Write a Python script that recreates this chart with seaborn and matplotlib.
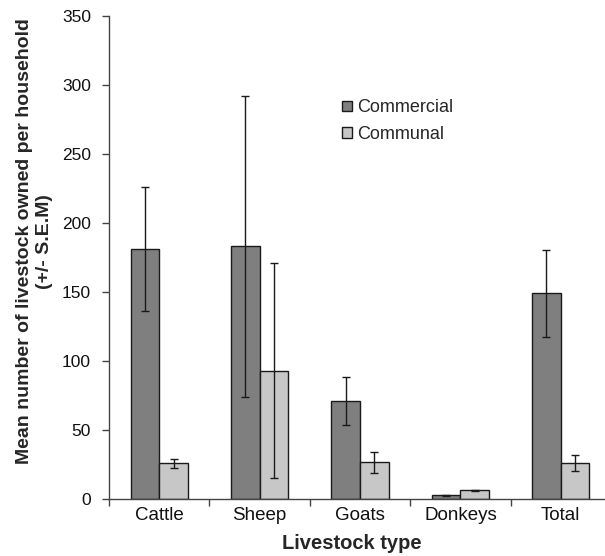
import matplotlib
matplotlib.use("Agg")
import matplotlib.pyplot as plt
import seaborn as sns
import pandas as pd
import numpy as np

# Mean livestock holdings per household with standard errors
categories = ["Cattle", "Sheep", "Goats", "Donkeys", "Total"]
commercial_mean = [181, 183, 71, 2.7, 149]
commercial_sem = [45, 109, 17.5, 0.3, 31.7]
communal_mean = [26, 93, 26.5, 6.3, 26]
communal_sem = [3.3, 78, 7.6, 0.5, 5.6]
groups = ["Commercial", "Communal"]

df = pd.DataFrame({
    "type": categories * 2,
    "group": [groups[0]] * len(categories) + [groups[1]] * len(categories),
    "mean": commercial_mean + communal_mean,
})
sems = {groups[0]: commercial_sem, groups[1]: communal_sem}

sns.set_theme(style="white")
plt.rcParams["font.family"] = ["Liberation Sans", "DejaVu Sans"]

fig = plt.figure(figsize=(6.05, 5.56), dpi=100)
ax = fig.add_axes([109 / 605, 1 - 499 / 556, 502 / 605, 483 / 556])

palette = {groups[0]: "#7f7f7f", groups[1]: "#c6c7c6"}
sns.barplot(data=df, x="type", y="mean", hue="group", order=categories,
            hue_order=groups, palette=palette, width=0.57, errorbar=None,
            edgecolor="#1a1a1a", linewidth=1.0, saturation=1, ax=ax)

# Standard-error bars at each bar centre
for cont, g in zip(ax.containers, groups):
    xs = [b.get_x() + b.get_width() / 2 for b in cont]
    hs = [b.get_height() for b in cont]
    ax.errorbar(xs, hs, yerr=sems[g], fmt="none", ecolor="#1a1a1a",
                elinewidth=1.0, capsize=3, capthick=1.0, zorder=5)

ax.set_ylim(0, 350)
ax.set_yticks(np.arange(0, 351, 50))
ax.set_xlim(-0.5, 4.5)

for s in ["top", "right"]:
    ax.spines[s].set_visible(False)
for s in ["left", "bottom"]:
    ax.spines[s].set_color("#444444")
    ax.spines[s].set_linewidth(1.0)

ax.tick_params(axis="y", which="major", direction="out", length=5, width=1,
               color="#444444", labelsize=12.5, pad=8, left=True,
               labelcolor="#111111")
ax.tick_params(axis="x", which="major", length=0, labelsize=13.5, pad=6,
               labelcolor="#111111")
ax.set_xticks(np.arange(-0.5, 4.6, 1.0), minor=True)
ax.tick_params(axis="x", which="minor", direction="out", length=5, width=1,
               color="#444444", bottom=True)

ax.set_xlabel("Livestock type", fontsize=14.5, fontweight="bold")
ax.xaxis.set_label_coords(0.484, -0.072)
ax.set_ylabel("Mean number of livestock owned per household\n(+/- S.E.M)",
              fontsize=14, fontweight="bold", linespacing=1.25)
ax.yaxis.set_label_coords(-0.112, 0.534)

handles, labels = ax.get_legend_handles_labels()
ax.legend(handles, labels, loc="upper left", bbox_to_anchor=(0.432, 0.861),
          frameon=False, fontsize=13, handlelength=0.55, handleheight=0.55,
          handletextpad=0.3, labelspacing=0.55)

fig.savefig("out.png", dpi=100)
